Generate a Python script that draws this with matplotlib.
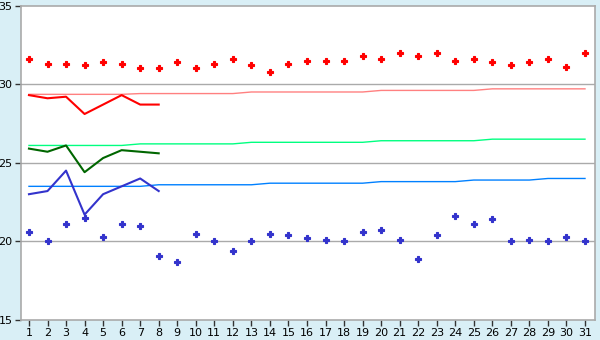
import matplotlib
matplotlib.use("Agg")
import matplotlib.pyplot as plt

# Datos del mes (dias 1..31)
dias = list(range(1, 32))

# Puntos superiores (rojos) e inferiores (azules)
max_puntos = [31.6, 31.3, 31.3, 31.2, 31.4, 31.3, 31.0, 31.0, 31.4, 31.0,
              31.3, 31.6, 31.2, 30.8, 31.3, 31.5, 31.5, 31.5, 31.8, 31.6,
              32.0, 31.8, 32.0, 31.5, 31.6, 31.4, 31.2, 31.4, 31.6, 31.1, 32.0]
min_puntos = [20.6, 20.0, 21.1, 21.5, 20.3, 21.1, 21.0, 19.1, 18.7, 20.5,
              20.0, 19.4, 20.0, 20.5, 20.4, 20.2, 20.1, 20.0, 20.6, 20.7,
              20.1, 18.9, 20.4, 21.6, 21.1, 21.4, 20.0, 20.1, 20.0, 20.3, 20.0]

# Series de lineas (dias 1..8)
dias_linea = list(range(1, 9))
linea_max = [29.3, 29.1, 29.2, 28.1, 28.7, 29.3, 28.7, 28.7]
linea_med = [25.9, 25.7, 26.1, 24.4, 25.3, 25.8, 25.7, 25.6]
linea_min = [23.0, 23.2, 24.5, 21.7, 23.0, 23.5, 24.0, 23.2]

# Valores normales
normal_max = [29.35] * 6 + [29.4] * 6 + [29.5] * 7 + [29.6] * 6 + [29.7] * 6
normal_med = [26.1] * 6 + [26.2] * 6 + [26.3] * 7 + [26.4] * 6 + [26.5] * 6
normal_min = [23.5] * 7 + [23.6] * 6 + [23.7] * 6 + [23.8] * 5 + [23.9] * 4 + [24.0] * 3

fondo = '#D9EFF6'
gris = '#AAAAAA'

fig = plt.figure(figsize=(6, 3.4), dpi=100, facecolor=fondo)
ax = fig.add_axes([21 / 600, 1 - 320 / 340, 574 / 600, 314.5 / 340])
ax.set_facecolor('white')

for y in [20, 25, 30]:
    ax.axhline(y, color=gris, lw=1, zorder=1)

# normales
ax.plot(dias, normal_max, color='#FF8080', lw=1, zorder=2)
ax.plot(dias, normal_med, color='#00FF80', lw=1, zorder=2)
ax.plot(dias, normal_min, color='#0080FF', lw=1, zorder=2)

# lineas
ax.plot(dias_linea, linea_max, color='#FF0000', lw=1.5, zorder=3)
ax.plot(dias_linea, linea_med, color='#006600', lw=1.5, zorder=3)
ax.plot(dias_linea, linea_min, color='#3333CC', lw=1.5, zorder=3)

# puntos
ax.plot(dias, max_puntos, ls='none', marker='P', ms=5, color='#FF0000',
        markeredgewidth=0.8, zorder=4)
ax.plot(dias, min_puntos, ls='none', marker='P', ms=5, color='#3333CC',
        markeredgewidth=0.8, zorder=4)

ax.set_xlim(0.57, 31.54)
ax.set_ylim(15, 35)
ax.set_xticks(dias)
ax.set_yticks([15, 20, 25, 30, 35])
ax.tick_params(axis='both', labelsize=8, length=4, width=1, color='#333333',
               pad=2, labelcolor='black')

for s in ax.spines.values():
    s.set_color(gris)
    s.set_linewidth(1.2)

plt.savefig("out.png", dpi=100, facecolor=fondo)
